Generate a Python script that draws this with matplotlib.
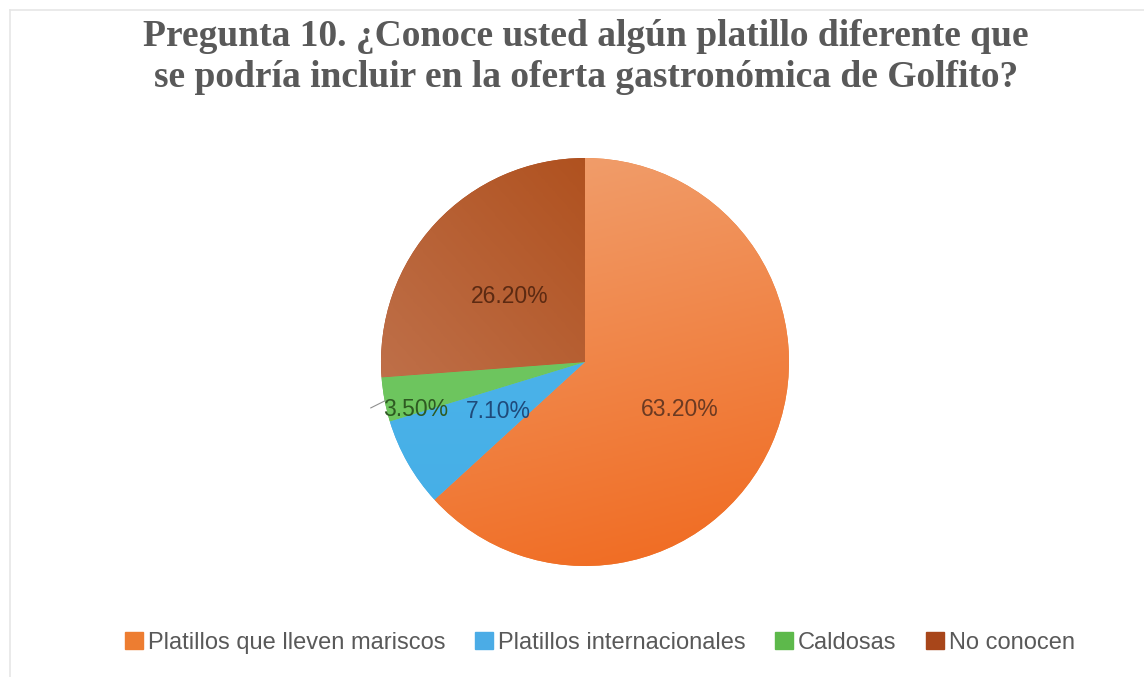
import numpy as np
import matplotlib.pyplot as plt
from matplotlib.colors import LinearSegmentedColormap

# Data
categories = ["Platillos que lleven mariscos", "Platillos internacionales", "Caldosas", "No conocen"]
values = [63.2, 7.1, 3.5, 26.2]
pct_labels = ["63.20%", "7.10%", "3.50%", "26.20%"]

# Style
legend_colors = ["#ED7D31", "#4BACE6", "#5DB94B", "#A8461A"]
grad_light = ["#F1A272", "#4FB6EC", "#72C864", "#C57C5A"]
grad_dark = ["#F0691E", "#45AEE6", "#6AC45A", "#A8420A"]
grad_dir = [(0.25, -1.0), (0.0, -1.0), (0.0, -1.0), (0.8, 0.7)]
label_colors = ["#6B3A22", "#1F4A7A", "#2E5A22", "#5C2A12"]
label_dist = [0.52, 0.49, 0.86, 0.49]
label_rot = [-3, 0, 5, 2]

W, H = 1144, 677
fig = plt.figure(figsize=(W / 100, H / 100), dpi=100)
fig.patch.set_facecolor("white")

# faint frame like the screenshot border
fig.add_artist(plt.Line2D([10 / W, 1], [1 - 10 / H, 1 - 10 / H], color="#E6E6E6", lw=1.2))
fig.add_artist(plt.Line2D([10 / W, 10 / W], [0, 1 - 10 / H], color="#E6E6E6", lw=1.2))

cx, cy, r = 585, 362, 204
ax = fig.add_axes([(cx - r) / W, (H - cy - r) / H, 2 * r / W, 2 * r / H])
wedges, _ = ax.pie(values, colors=legend_colors, startangle=90, counterclock=False,
                   radius=1.0, wedgeprops=dict(linewidth=0))
ax.set_xlim(-1, 1)
ax.set_ylim(-1, 1)
ax.set_aspect("equal")
ax.axis("off")

# gradient fills clipped to each wedge
xx, yy = np.meshgrid(np.linspace(-1, 1, 300), np.linspace(-1, 1, 300))
for i, w in enumerate(wedges):
    dx, dy = grad_dir[i]
    t = xx * dx + yy * dy
    t = (t - t.min()) / (t.max() - t.min())
    cmap = LinearSegmentedColormap.from_list("g%d" % i, [grad_light[i], grad_dark[i]])
    im = ax.imshow(t, cmap=cmap, extent=[-1, 1, -1, 1], origin="lower", zorder=2,
                   interpolation="bilinear")
    im.set_clip_path(w)

# percentage labels
for i, w in enumerate(wedges):
    mid = np.radians((w.theta1 + w.theta2) / 2 + label_rot[i])
    x, y = label_dist[i] * np.cos(mid), label_dist[i] * np.sin(mid)
    ax.text(x, y, pct_labels[i], ha="center", va="center", fontsize=16.5,
            color=label_colors[i], family="Liberation Sans", zorder=5)

# small leader line for the thin slice
ax.plot([-1.05, -0.98], [-0.225, -0.19], color="#909090", lw=0.8, zorder=5, clip_on=False)

fig.text(586 / W, 1 - 57 / H,
         "Pregunta 10. ¿Conoce usted algún platillo diferente que\nse podría incluir en la oferta gastronómica de Golfito?",
         ha="center", va="center", fontsize=27, fontweight="bold", color="#595959",
         family="Liberation Serif", linespacing=1.2)

handles = [plt.Rectangle((0, 0), 1, 1, color=c) for c in legend_colors]
fig.legend(handles, categories, loc="center", bbox_to_anchor=(600 / W, 1 - 643 / H),
           ncol=4, frameon=False, handlelength=0.76, handleheight=0.72, handletextpad=0.2,
           columnspacing=1.27, prop=dict(family="Liberation Sans", size=17),
           labelcolor="#595959")

fig.savefig("out.png", dpi=100, facecolor="white")
